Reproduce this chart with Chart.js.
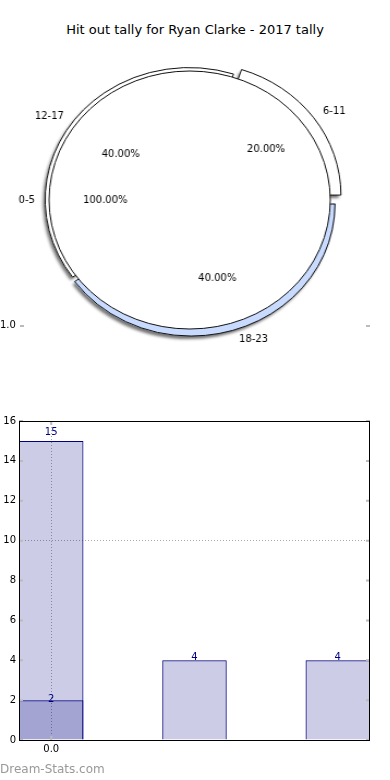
<!DOCTYPE html>
<html>
<head>
<meta charset="utf-8">
<script src="https://cdn.jsdelivr.net/npm/chart.js@4.4.0/dist/chart.umd.min.js"></script>
<style>
  body { margin: 0; background: #fff; font-family: "DejaVu Sans", sans-serif; }
  #page { position: relative; width: 390px; height: 780px; overflow: hidden; }
  #title { position: absolute; top: 22px; left: 0; width: 390px; text-align: center; font-size: 13px; color: #000; }
  #pieWrap { position: absolute; left: 0; top: 0; width: 358px; height: 370px; transform: scaleX(1.09); transform-origin: 0 0; }
  #barWrap { position: absolute; left: 0; top: 380px; width: 390px; height: 400px; }
  #yLabel { position: absolute; left: 0; top: 319px; font-size: 10px; color: #000; }
  .tick { position: absolute; top: 325px; width: 4px; height: 2px; background: #bbb; }
  #brand { position: absolute; left: 0; top: 762px; font-size: 12px; color: #999; }
</style>
</head>
<body>
<div id="page">
  <div id="title">Hit out tally for Ryan Clarke - 2017 tally</div>
  <div id="pieWrap"><canvas id="pieChart"></canvas></div>
  <div id="yLabel">1.0</div>
  <div class="tick" style="left:20px"></div>
  <div class="tick" style="left:366px"></div>
  <div id="barWrap"><canvas id="barChart"></canvas></div>
  <div id="brand">Dream-Stats.com</div>
</div>
<script>
// pie: outer ring, listed clockwise from 3 o'clock
const ringLabels = ['18-23', '12-17', '6-11'];
const ringValues = [2, 2, 1];
const ringColors = ['#c8dbff', '#ffffff', '#ffffff'];
const ringOffsets = [12, 2, 32];
// pie: inner full circle
const coreLabels = ['0-5'];
const coreValues = [1];

// bars
const barX = [0, 1, 2];
const tallyValues = [15, 4, 4];
const overlayX = [0];
const overlayValues = [2];
const yTicks = [0, 2, 4, 6, 8, 10, 12, 14, 16];

const SX = 1.09; // horizontal stretch of the pie canvas (css)

const pieText = (ctx, text, x, y, align) => {
    ctx.save();
    ctx.translate(x, y);
    ctx.scale(1 / SX, 1);
    ctx.textAlign = align;
    ctx.textBaseline = 'middle';
    ctx.fillText(text, 0, 0);
    ctx.restore();
};

// same shift chart.js applies to an exploded arc
const arcShift = (el) => {
    const off = (el.options.offset || 0) / 4;
    const circ = el.endAngle - el.startAngle;
    const fix = 1 - Math.sin(Math.min(Math.PI, circ));
    return off * (1 + fix);
};

// full wedge (centre to rim) of a ring arc, moved like the arc itself
const wedgePath = (ctx, el) => {
    const mid = (el.startAngle + el.endAngle) / 2;
    const sh = arcShift(el);
    const x = el.x + Math.cos(mid) * sh, y = el.y + Math.sin(mid) * sh;
    ctx.beginPath();
    ctx.moveTo(x, y);
    ctx.arc(x, y, el.outerRadius, el.startAngle, el.endAngle);
    ctx.closePath();
};

const pieLabelsPlugin = {
    id: 'pieLabels',
    beforeDatasetsDraw(chart) {
        const ctx = chart.ctx;
        const arcs = chart.getDatasetMeta(0).data;
        // drop shadow
        ctx.save();
        ctx.shadowColor = 'rgba(0,0,0,0.55)';
        ctx.shadowOffsetX = -2;
        ctx.shadowOffsetY = 3;
        ctx.shadowBlur = 3;
        ctx.fillStyle = '#fff';
        arcs.forEach(el => { wedgePath(ctx, el); ctx.fill(); });
        ctx.restore();
        // wedge bodies
        ctx.save();
        arcs.forEach(el => {
            wedgePath(ctx, el);
            ctx.fillStyle = el.options.backgroundColor;
            ctx.fill();
        });
        ctx.restore();
    },
    afterDatasetsDraw(chart) {
        const ctx = chart.ctx;
        const core = chart.getDatasetMeta(1).data[0];
        const arcs = chart.getDatasetMeta(0).data;
        // wedge outlines, only outside the inner circle
        ctx.save();
        ctx.beginPath();
        ctx.rect(0, 0, chart.width, chart.height);
        ctx.arc(core.x, core.y, core.outerRadius, 0, Math.PI * 2);
        ctx.clip('evenodd');
        ctx.strokeStyle = '#111';
        ctx.lineWidth = 1;
        arcs.forEach(el => { wedgePath(ctx, el); ctx.stroke(); });
        ctx.restore();
        // inner circle outline
        ctx.save();
        ctx.strokeStyle = '#111';
        ctx.lineWidth = 1;
        ctx.beginPath();
        ctx.arc(core.x, core.y, core.outerRadius, 0, Math.PI * 2);
        ctx.stroke();
        ctx.restore();
    },
    afterDraw(chart) {
        const ctx = chart.ctx;
        const core = chart.getDatasetMeta(1).data[0];
        const R = core.outerRadius;
        const cx = core.x, cy = core.y;
        ctx.save();
        ctx.font = '10px "DejaVu Sans"';
        ctx.fillStyle = '#000';
        [0, 1].forEach(di => {
            const ds = chart.data.datasets[di];
            const total = ds.data.reduce((a, b) => a + b, 0);
            chart.getDatasetMeta(di).data.forEach((el, i) => {
                const mid = (el.startAngle + el.endAngle) / 2;
                const c = Math.cos(mid), s = Math.sin(mid);
                const sh = arcShift(el) * 1.1;
                const ox = cx + c * sh, oy = cy + s * sh;
                pieText(ctx, ds.names[i], ox + c * R * 1.1, oy + s * R * 1.1, c > 0.001 ? 'left' : 'right');
                const pct = (ds.data[i] / total * 100).toFixed(2) + '%';
                pieText(ctx, pct, ox + c * R * 0.6, oy + s * R * 0.6, 'center');
            });
        });
        ctx.restore();
    }
};

new Chart(document.getElementById('pieChart'), {
    type: 'pie',
    data: {
        datasets: [
            {
                names: ringLabels,
                data: ringValues,
                backgroundColor: ringColors,
                borderWidth: 0,
                offset: ringOffsets,
                weight: 3,
                order: 1
            },
            {
                names: coreLabels,
                data: coreValues,
                backgroundColor: '#ffffff',
                borderWidth: 0,
                weight: 129,
                order: 0
            }
        ]
    },
    options: {
        responsive: true,
        maintainAspectRatio: false,
        animation: false,
        rotation: 90,
        radius: 132,
        layout: { padding: { left: 34, right: 44, top: 60, bottom: 30 } },
        plugins: { legend: { display: false }, tooltip: { enabled: false } }
    },
    plugins: [pieLabelsPlugin]
});

const frameAndLabels = {
    id: 'frameAndLabels',
    afterDraw(chart) {
        const ctx = chart.ctx;
        const a = chart.chartArea;
        const yScale = chart.scales.y;
        const xScale = chart.scales.x;
        ctx.save();
        // inner tick marks
        ctx.strokeStyle = '#bbb';
        ctx.lineWidth = 2;
        ctx.setLineDash([]);
        yTicks.forEach(v => {
            const y = yScale.getPixelForValue(v);
            ctx.beginPath();
            ctx.moveTo(a.left, y); ctx.lineTo(a.left + 4, y);
            ctx.moveTo(a.right - 4, y); ctx.lineTo(a.right, y);
            ctx.stroke();
        });
        const x0 = xScale.getPixelForValue(0);
        ctx.beginPath();
        ctx.moveTo(x0, a.top); ctx.lineTo(x0, a.top + 4);
        ctx.moveTo(x0, a.bottom - 4); ctx.lineTo(x0, a.bottom);
        ctx.stroke();
        // frame
        ctx.strokeStyle = '#000';
        ctx.lineWidth = 1;
        ctx.strokeRect(Math.round(a.left) + 0.5, Math.round(a.top) + 0.5, Math.round(a.width) - 1, Math.round(a.height));
        // value labels
        ctx.font = '10px "DejaVu Sans"';
        ctx.fillStyle = '#000080';
        ctx.textAlign = 'center';
        ctx.textBaseline = 'middle';
        chart.data.datasets.forEach((ds, di) => {
            chart.getDatasetMeta(di).data.forEach((el, i) => {
                const v = ds.data[i].y;
                ctx.fillText(String(v), el.x, yScale.getPixelForValue(v * 1.03));
            });
        });
        ctx.restore();
    }
};

new Chart(document.getElementById('barChart'), {
    type: 'bar',
    data: {
        datasets: [
            {
                data: barX.map((x, i) => ({ x: x, y: tallyValues[i] })),
                backgroundColor: 'rgba(0,0,128,0.2)',
                borderColor: '#000080',
                borderWidth: 1,
                grouped: false,
                categoryPercentage: 1,
                barPercentage: 0.45
            },
            {
                data: overlayX.map((x, i) => ({ x: x, y: overlayValues[i] })),
                backgroundColor: 'rgba(0,0,128,0.2)',
                borderColor: '#000080',
                borderWidth: 1,
                grouped: false,
                categoryPercentage: 1,
                barPercentage: 0.45
            }
        ]
    },
    options: {
        responsive: true,
        maintainAspectRatio: false,
        animation: false,
        layout: { padding: { top: 41, right: 20, bottom: 20, left: 0 } },
        plugins: { legend: { display: false }, tooltip: { enabled: false } },
        scales: {
            x: {
                type: 'linear',
                min: -0.225,
                max: 2.225,
                offset: false,
                z: 1,
                afterBuildTicks: s => { s.ticks = [{ value: 0 }]; },
                afterFit: s => { s.height = 20; },
                ticks: {
                    callback: v => Number(v).toFixed(1),
                    font: { family: 'DejaVu Sans', size: 10 },
                    color: '#000',
                    padding: 3,
                    maxRotation: 0
                },
                grid: { color: '#aaa', lineWidth: 1, drawTicks: false, offset: false },
                border: { display: false, dash: [1, 2] }
            },
            y: {
                min: 0,
                max: 16,
                z: 1,
                afterBuildTicks: s => { s.ticks = yTicks.map(v => ({ value: v })); },
                afterFit: s => { s.width = 19; },
                ticks: {
                    font: { family: 'DejaVu Sans', size: 10 },
                    color: '#000',
                    padding: 3
                },
                grid: {
                    color: c => (c.tick && c.tick.value === 10 ? '#aaa' : 'rgba(0,0,0,0)'),
                    lineWidth: 1,
                    drawTicks: false
                },
                border: { display: false, dash: [1, 2] }
            }
        }
    },
    plugins: [frameAndLabels]
});
</script>
</body>
</html>
